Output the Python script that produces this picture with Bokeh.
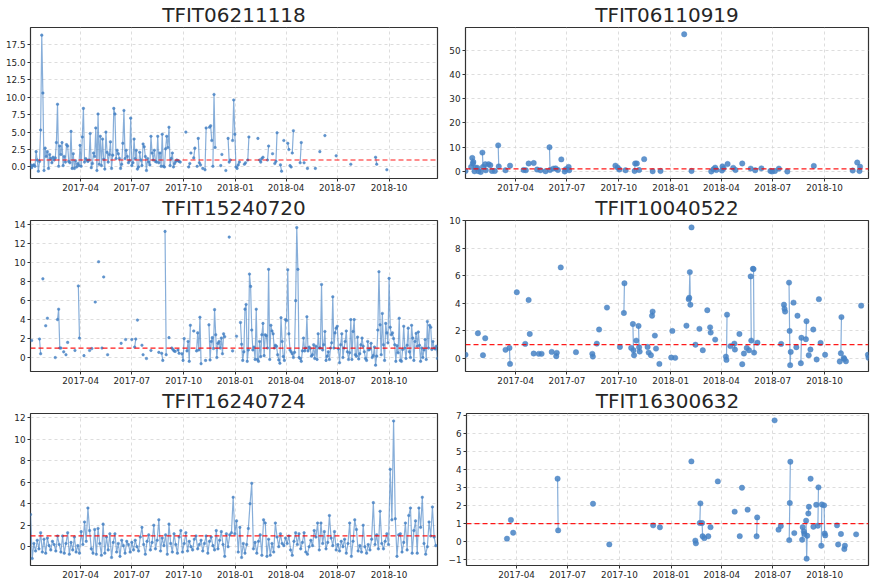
import math
from datetime import date
import numpy as np
from bokeh.plotting import figure
from bokeh.layouts import column, row
from bokeh.models import Range1d, FixedTicker, Span, DatetimeTickFormatter, PrintfTickFormatter
from bokeh.embed import file_html
from bokeh.resources import INLINE

# ---------------- data ----------------
START = "2017-01-02"          # day 0 of every run below
END_DAY_LEFT = 723            # last day shown, left column
END_DAY_RIGHT = 715           # last day shown, right column (cut at the page edge)
THRESHOLD = 1.0
X_TICK_LABELS = ["2017-04", "2017-07", "2017-10", "2018-01", "2018-04", "2018-07", "2018-10"]

TITLES = ["TFIT06211118", "TFIT06110919", "TFIT15240720",
          "TFIT10040522", "TFIT16240724", "TFIT16300632"]

# runs: [first day offset, [consecutive values]]; STEP = days between values in a run
P1_STEP = 2
P1_RUNS = [
    [0, [0.3, -0.1, 0.2, 0.3, 0.1, 2.2, 1.0, -0.6, 0.8, 5.3,
         18.9, 10.6, -0.5, 2.7, 1.5, 2.2, -0.2, 1.8, 1.2, 0.6,
         1.4, 1.0, 1.3, 3.5, 9.0, 0.1, 3.0, 1.8, 3.5, 0.2,
         1.5, 0.7, 3.2, 3.0, 0.8, 0.6, 5.1, -0.2, 1.9, -0.2,
         0.9, 0.0, 0.5, 0.2, 3.1, 0.1, 4.3, 8.4, 0.7, 1.2,
         1.0, 0.8, 1.0, 4.8, -0.1, 0.5, 2.0, 1.5, 5.6, -0.5,
         7.6, 0.4, 4.4, 0.2, 4.0, 1.1, -0.3, 5.0, 2.1, 0.7,
         1.8, 3.6, -0.2, 1.7, 8.4, 7.6, 1.2, 2.4, 1.9, 1.2,
         -0.2, 0.4, 3.4, 8.1, 1.2, 2.4, 1.5, 0.6, 0.9, 7.0,
         0.2, 0.6, 4.0, 1.2, 2.4, -0.3, 0.0, 2.1, 1.0, 0.2,
         3.3, 2.9, 1.5, -0.5, 1.2, 0.7, 0.3, 4.4, 2.0, 1.0,
         2.4, 0.8, 0.7, 4.4, 0.6, 2.0, 0.1, 4.7, 0.1, 0.0,
         2.6, 4.4, 2.8, 5.7, 0.2, 1.2, 2.0, 0.0, 0.5, 0.8,
         1.0, 0.9, 0.8, 0.7]],
    [276, [5.0]], [281, [0.0, 0.5]], [285, [2.0]], [290, [1.3, 2.7]], [296, [0.1]],
    [298, [4.1, 0.6, 0.3]], [306, [-0.2]], [310, [-0.4, 5.6]], [318, [5.7, 5.9, 3.8]],
    [324, [0.1, 10.4, 2.8]], [338, [0.2]], [340, [1.8]], [347, [-0.5]], [351, [4.1, 0.7, 1.0]],
    [359, [3.8, 9.6, 4.7, 0.0, -0.2, 0.3, 0.7]], [380, [0.4, 0.6]], [386, [1.0, 4.3]],
    [404, [4.1]], [407, [1.0, 0.7, 1.2, 1.4]], [421, [1.0, 3.0]], [430, [1.9]],
    [434, [0.5, 0.8, 4.9]], [444, [0.3, -0.6]], [450, [3.8]], [457, [3.4, 2.5]],
    [461, [0.2, 0.0]], [465, [2.0, 5.2]], [479, [0.6, 3.5]], [486, [0.6]], [492, [-0.2]],
    [506, [-0.2]], [514, [2.2]], [523, [4.5]], [543, [1.6]], [569, [0.4]],
    [613, [1.4, 0.4]], [633, [-0.4]],
]

P2_STEP = 1
P2_RUNS = [
    [0, [0.1]], [10, [1.8]], [12, [5.5, 3.2, 3.8]], [16, [0.0]], [18, [1.5]], [21, [1.4]],
    [23, [0.0]], [27, [-0.3]], [30, [7.7, 1.8]], [35, [2.9, 0.4]], [41, [2.9]], [44, [2.5]],
    [47, [0.1]], [52, [0.1]], [58, [10.7, 2.0]], [71, [0.4]], [79, [2.3]], [103, [0.5]],
    [107, [0.4]], [112, [3.2]], [121, [3.4]], [127, [0.7]], [133, [0.4]], [142, [0.0]],
    [149, [9.9, 0.5]], [156, [1.1]], [160, [1.2]], [164, [0.5]], [170, [4.9]], [176, [-0.1]],
    [178, [0.8]], [183, [1.8, 0.4]], [266, [2.3]], [270, [1.5]], [273, [0.7]], [284, [0.4]],
    [300, [0.1, 3.2]], [304, [3.2]], [308, [0.5]], [317, [5.0]], [332, [0.0]], [346, [0.1]],
    [388, [56.6]], [401, [0.1]], [436, [-0.1]], [440, [0.8]], [443, [1.5]], [445, [0.5]],
    [455, [0.3, 2.0]], [458, [1.2]], [465, [3.0]], [475, [1.4]], [479, [0.5]], [491, [3.2]],
    [506, [1.1]], [514, [0.4]], [525, [1.2]], [541, [0.1]], [544, [-0.1]], [549, [0.1]],
    [556, [1.1]], [571, [-0.1]], [618, [2.2]], [687, [0.3]], [695, [3.6]], [699, [0.1, 1.9]],
]

P3_STEP = 2
P3_RUNS = [
    [2, [1.8]], [16, [1.95, 0.4]], [22, [8.3]], [27, [3.35]], [30, [4.15]], [44, [0.0]],
    [48, [4.0, 5.1, 1.0, 1.0]], [59, [0.6]], [63, [0.3]], [66, [1.6]], [79, [0.75]],
    [85, [7.55, 2.05]], [95, [0.2]], [105, [0.75]], [109, [0.95]], [115, [5.85]],
    [121, [10.1]], [127, [1.0]], [130, [8.5]], [137, [0.3]], [161, [1.5]], [169, [1.9]],
    [180, [1.9]], [185, [1.1, 1.95]], [190, [3.95]], [198, [1.3]], [200, [0.3]],
    [206, [-0.1]], [214, [0.75]], [228, [0.55]], [233, [0.45, -0.3]], [239, [13.3, 0.3]],
    [246, [2.1]], [251, [1.0, 0.85, 0.7, 0.65]], [262, [0.8, 0.45]], [269, [0.4, -0.3, 2.0]],
    [278, [0.7, 1.7, -0.4, 3.4]], [290, [2.8]], [295, [0.7, 2.6, 0.8, 4.25, -0.65]],
    [311, [-0.3]],
    [317, [3.45, -0.25, 1.7, 2.1, 0.95, 5.05, 2.4, 0.0, 1.5, 1.7, 1.0, 2.05, 0.4, 2.5, 2.2]],
    [353, [12.7]], [359, [0.7]], [366, [2.25]],
    [373, [3.7, 1.4, -0.3, 0.6, 5.1, 5.6, -0.4, 0.8, 8.8, 7.5,
           2.9, 0.8, 1.1, -0.2, 5.1, -0.2, -0.4, 1.7, 0.1, 2.4,
           3.6, 0.2, 2.4, 2.3, 1.0, 9.3, -0.2, 3.4, 2.8, 2.5,
           1.0, 1.3, 1.2, 0.3, -0.25, -0.6, 4.2, 1.7, 0.1, -0.3,
           4.0, 3.9, 9.25, 2.5, 0.8, 0.6, 0.4, 0.0, 0.55, 6.0,
           13.7, 9.3, 0.0, -0.1, -0.4, 0.7, 2.05, 0.7, 1.0, 4.3,
           0.7, 1.1, 0.95, 0.15, 0.3, 1.35, -0.1, 1.2, -0.2, 2.5,
           1.0, 1.0, 7.7, 0.8, 1.35, 2.75, -0.3, 0.15, 0.6, -0.2,
           1.0, 1.55, 6.4, 1.0, 2.6, 3.1, 3.3, 0.9, -0.55, 1.35,
           2.5, 0.0, 1.0, 1.7, 2.8, 0.6, -0.2, 0.5, 4.0, -0.2,
           2.75, 4.0, 0.3, 0.15, 2.15, -0.15, 0.4, 1.35, 2.05, 1.2,
           0.6, -0.1, -0.3, 1.7, 0.8, 0.9, 1.5, 0.0, 0.2, 1.1,
           -0.8, 0.15, 2.9, 9.05, 3.45, 0.3, 4.65, 1.35, -0.3, 3.6,
           2.6, 1.55, 8.35, 3.2, 2.4, 2.6, 2.0, 1.35, -0.4, 1.25,
           0.5, 4.15, -0.3, -0.4, 0.85, 3.3, 1.0, -0.1, 1.3, 3.1,
           0.6, 0.0, 3.4, 2.05, -0.3, 1.7, 2.55, 1.2, 2.7, 1.3,
           -0.4, 1.0, 0.0, 0.8, 1.9, -0.2, 3.8, 1.0, 3.4, 3.2,
           0.85, 1.7, 1.0, 0.9, 1.2, -0.1]],
]

P4_STEP = 1
P4_RUNS = [
    [0, [0.27]], [22, [1.83]], [31, [0.24]], [35, [1.47]], [71, [0.63]], [78, [0.77, -0.39]],
    [91, [4.8]], [106, [1.06]], [112, [4.24]], [114, [1.78]], [121, [0.36]], [130, [0.34]],
    [135, [0.34]], [153, [0.48]], [161, [0.17, 0.41]], [169, [6.6]], [196, [0.46]],
    [225, [0.34, 0.14]], [233, [1.08]], [237, [2.1]], [251, [3.69]], [274, [0.84]],
    [281, [3.3, 5.45]], [294, [0.77]], [297, [2.5, 0.6, 0.24]], [303, [1.3]],
    [307, [2.36, 0.82, 0.5]], [323, [0.84]], [325, [0.43]], [329, [0.24]], [331, [3.1, 3.4]],
    [336, [1.66]], [338, [0.72]], [344, [-0.39]], [365, [0.07]], [367, [2.0]], [372, [0.05]],
    [392, [2.38]], [396, [4.3, 4.4, 6.26, 3.9]], [401, [9.5]], [408, [1.0]], [415, [2.15]],
    [421, [0.6]], [429, [3.5]], [434, [2.26, 1.88]], [443, [1.37]], [462, [0.14, -0.1, 3.18]],
    [470, [0.9]], [477, [1.08, 0.65]], [486, [1.78]], [491, [-0.41]], [494, [0.36]],
    [499, [0.77]], [503, [0.6]], [506, [5.95, 1.3]], [510, [6.5, 6.48, 0.43]], [518, [1.15]],
    [560, [1.06]], [565, [3.9, 3.6, 3.4]], [574, [5.5, 2.0, -0.48, 0.48]], [582, [4.05]],
    [587, [0.82]], [589, [3.1]], [595, [-0.34, 1.5]], [604, [1.4, 2.7]], [609, [0.24]],
    [612, [0.65]], [617, [2.1]], [623, [-0.07]], [627, [4.3]], [630, [1.13]], [638, [0.27]],
    [664, [-0.22]], [666, [0.38, 3.0]], [671, [0.05, -0.03]], [675, [-0.2]], [702, [3.83]],
    [714, [0.27, 0.05]],
]

P5_STEP = 3
P5_RUNS = [
    [0, [3.0, -1.1, 0.3, -0.4, 0.6, -0.2, 1.3, -0.5, 0.7, -0.6,
         0.8, 0.1, -0.3, 0.5, 0.2, -0.4, 1.0, 0.2, -0.5, 1.0,
         -0.6, 0.3, 1.3, -0.7, 0.4, -0.3, 0.9, -0.5, 0.1, -0.6,
         1.4, 0.2, 2.3, 0.5, 3.6, 1.5, -0.2, -0.6, 1.6, -0.7,
         1.7, 0.3, -0.8, 2.1, -0.6, 0.9, -0.3, 1.2, -1.0, 0.4,
         1.2, -0.5, 0.3, -0.9, 0.6, 0.1, -0.6, 0.5, 0.2, -0.5,
         0.4, -0.3, 0.6, 0.0, -0.4, 0.9, 1.8, 0.2, -0.7, 0.5,
         1.1, -0.3, 0.4, 2.0, -0.2, 0.6, 2.5, -0.4, 0.8, 0.1,
         1.1, -0.7, 2.1, 0.3, -0.5, 1.2, 0.2, -0.6, 0.9, 1.5,
         -0.5, 0.3, 1.3, -0.4, 0.5, 0.0, -0.3, 0.7, 1.0, -0.2,
         0.2, 0.6, -0.4, 0.3, 1.0, -0.6, 0.5, 0.9, 0.1, -0.3,
         1.5, -0.2, 0.6, 1.4, 0.2, -0.9, 1.2, 0.0, 1.1, 1.3,
         4.6, 1.2, 2.4, -0.5, 1.8, -1.0, 0.3, -0.6, 0.2, 1.7,
         4.0, 5.9, -0.2, 0.4, -0.6, 0.5, 1.1, -0.8, 2.5, 2.2,
         -0.9, 0.7, -0.8, 0.3, -0.5, 2.2, 0.9, 0.0, 1.2, 0.3,
         0.1, 0.8, 0.3, 1.0, -0.3, -0.8, 0.5, 1.3, 0.2, 1.2,
         -0.2, 0.4, 1.3, -0.5, -0.7, 0.0, 0.6, 0.1, 1.5, 0.9,
         2.2, -0.3, 2.2, 0.3, 1.4, -0.2, 0.4, 2.9, 0.8, 0.1,
         1.4, -0.3, 0.2, -0.4, 0.5, 0.0, 0.7, -0.6, 0.3, 2.2,
         -0.9, 0.5, 2.5, 1.6, -0.4, 0.1, -0.5, 2.0, 0.0, -0.6,
         0.2, -0.3, 0.7, 4.1, 0.2, 1.1, -0.2, 3.3, 0.3, -0.2,
         0.5, 1.2, 0.2, 7.2, 2.5, 11.7, 2.6, -0.9, 1.1, 1.2,
         -0.5, 0.4, 2.2, -0.3, 2.9, 3.6, -0.6, 1.5, 2.4, -0.6,
         3.6, 1.8, 4.6, 0.3, -0.7, 0.0, 2.3, 1.0, 3.7, 0.9,
         0.1]],
]

P6_STEP = 1
P6_RUNS = [
    [72, [0.17]], [79, [1.21]], [83, [0.5]], [162, [3.5, 0.63]], [225, [2.11]], [254, [-0.15]],
    [332, [0.91]], [344, [0.8]], [400, [4.46]], [407, [0.06, -0.09]], [415, [1.04, 2.13]],
    [419, [1.04, 0.3]], [423, [0.2]], [430, [0.3]], [434, [0.81]], [447, [3.35]], [477, [1.67]],
    [486, [0.31]], [490, [3.0]], [500, [1.78]], [516, [0.3, 1.35]], [548, [6.74]], [555, [0.67]],
    [559, [0.87]], [574, [0.09, 2.15, 4.44]], [583, [0.48]], [597, [0.11, 0.81]],
    [600, [0.57, 0.43]], [604, [1.17, -0.94, 0.33]], [608, [1.57, 1.94]], [612, [3.5]],
    [617, [0.83]], [622, [2.05]], [625, [0.89, 3.02]], [631, [-0.22, 2.07]],
    [636, [2.02, 0.46, 0.35]], [659, [0.91]], [661, [-0.15]], [666, [0.43]],
    [672, [-0.41, -0.22]], [693, [0.41]],
]

Y_RANGES = [(-1.65, 20.0), (-3.0, 59.4), (-1.47, 14.45), (-0.94, 10.0), (-1.75, 12.4), (-1.32, 7.12)]
Y_TICKS = [[0, 2.5, 5, 7.5, 10, 12.5, 15, 17.5],
           [0, 10, 20, 30, 40, 50],
           [0, 2, 4, 6, 8, 10, 12, 14],
           [0, 2, 4, 6, 8, 10],
           [0, 2, 4, 6, 8, 10, 12],
           [-1, 0, 1, 2, 3, 4, 5, 6, 7]]

# ---------------- helpers ----------------
DAY_MS = 86400000.0
EPOCH = date(1970, 1, 1)
y0, m0, d0 = (int(s) for s in START.split("-"))
START_MS = (date(y0, m0, d0) - EPOCH).days * DAY_MS


def to_ms(day):
    return START_MS + day * DAY_MS


def month_ms(label):
    yy, mm = (int(s) for s in label.split("-"))
    return (date(yy, mm, 1) - EPOCH).days * DAY_MS


X_TICKS = [month_ms(lbl) for lbl in X_TICK_LABELS]

COLOR = "#4682c4"
FONT = "DejaVu Sans"
TEXT = "#262626"
ROW_H = [193, 193, 194]
W_LEFT = 445
W_RIGHT = 425


def expand(runs, step):
    px, py, lx, ly = [], [], [], []
    for start, vals in runs:
        for i, v in enumerate(vals):
            x = to_ms(start + i * step)
            px.append(x); py.append(v)
            lx.append(x); ly.append(v)
        lx.append(float("nan")); ly.append(float("nan"))
    return px, py, np.array(lx, dtype=float), np.array(ly, dtype=float)


def make_fig(idx, runs, step):
    left = (idx % 2 == 0)
    ylo, yhi = Y_RANGES[idx]
    p = figure(width=W_LEFT if left else W_RIGHT, height=ROW_H[idx // 2],
               x_axis_type="datetime",
               x_range=Range1d(to_ms(0), to_ms(END_DAY_LEFT if left else END_DAY_RIGHT)),
               y_range=Range1d(ylo, yhi),
               output_backend="svg", toolbar_location=None,
               min_border_left=30 if left else 20,
               min_border_right=8 if left else 2,
               min_border_top=0, min_border_bottom=0,
               title=TITLES[idx])
    p.title.text_font = FONT
    p.title.text_font_size = "20px"
    p.title.text_font_style = "normal"
    p.title.text_color = TEXT
    p.title.align = "center"
    p.title.standoff = 1

    p.xaxis.ticker = FixedTicker(ticks=X_TICKS, minor_ticks=[])
    p.xaxis.formatter = DatetimeTickFormatter(days="%Y-%m", months="%Y-%m", years="%Y-%m")
    p.yaxis.ticker = FixedTicker(ticks=Y_TICKS[idx], minor_ticks=[])
    if idx == 0:
        p.yaxis.formatter = PrintfTickFormatter(format="%.1f")
    if idx == 5:
        p.yaxis.major_label_overrides = {-1: "\u22121"}

    for ax in (p.xaxis[0], p.yaxis[0]):
        ax.axis_line_color = None
        ax.major_tick_in = 0
        ax.major_tick_out = 3
        ax.major_tick_line_color = "#333333"
        ax.minor_tick_line_color = None
        ax.major_label_text_font = FONT
        ax.major_label_text_font_size = "8.8px"
        ax.major_label_text_color = TEXT
        ax.major_label_standoff = 2

    p.grid.grid_line_color = "#d4d4d4"
    p.grid.grid_line_dash = "3 3"
    p.grid.grid_line_width = 0.8
    p.outline_line_color = "#333333"
    p.outline_line_width = 1.2
    p.background_fill_color = "white"
    p.border_fill_color = "white"

    px, py, lx, ly = expand(runs, step)
    p.line(lx, ly, line_color=COLOR, line_width=1.2, line_alpha=0.65)
    p.scatter(px, py, marker="circle", size=2.6 if left else 5.4,
              fill_color=COLOR, line_color=COLOR, line_width=0.5,
              fill_alpha=0.85, line_alpha=0.85)

    p.add_layout(Span(location=THRESHOLD, dimension="width", line_color="red",
                      line_dash="5 3", line_width=1.2, line_alpha=0.9))
    return p


ALL = [(P1_RUNS, P1_STEP), (P2_RUNS, P2_STEP), (P3_RUNS, P3_STEP),
       (P4_RUNS, P4_STEP), (P5_RUNS, P5_STEP), (P6_RUNS, P6_STEP)]
figs = [make_fig(i, r, s) for i, (r, s) in enumerate(ALL)]

layout = column(row(figs[0], figs[1]), row(figs[2], figs[3]), row(figs[4], figs[5]))
open("out.html", "w").write(file_html(layout, INLINE))
